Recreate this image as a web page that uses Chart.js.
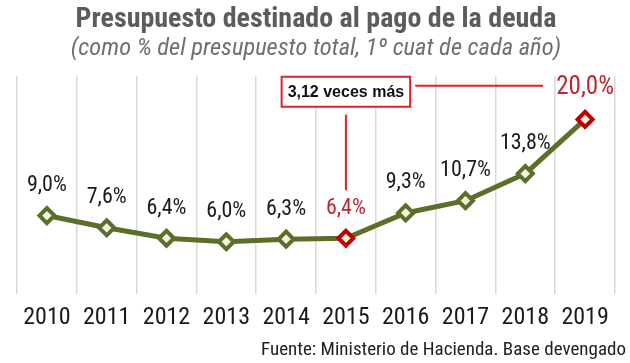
<!DOCTYPE html>
<html>
<head>
<meta charset="utf-8">
<script src="https://cdn.jsdelivr.net/npm/chart.js@4.4.1/dist/chart.umd.min.js"></script>
<style>
  html, body { margin: 0; padding: 0; background: #fff; }
  #wrap { width: 630px; height: 363px; }
</style>
</head>
<body>
<div id="wrap"><canvas id="canvas"></canvas></div>
<script>
// datos
const years = ["2010", "2011", "2012", "2013", "2014", "2015", "2016", "2017", "2018", "2019"];
const shares = [9.0, 7.6, 6.4, 6.0, 6.3, 6.4, 9.3, 10.7, 13.8, 20.0];
const highlightYears = ["2015", "2019"];
const calloutText = "3,12 veces más";
const footerText = "Fuente: Ministerio de Hacienda. Base devengado";

const NARROW = "'Liberation Sans Narrow', 'Roboto Condensed', Roboto, sans-serif";
const GREEN = "#5b6f29";
const RED = "#c00000";

const isHighlight = (i) => highlightYears.includes(years[i]);
const fmt = (v) => v.toFixed(1).replace(".", ",") + "%";

// etiquetas de valores + llamada + fuente
const extras = {
  id: "extras",
  afterDatasetsDraw(chart) {
    const ctx = chart.ctx;
    const meta = chart.getDatasetMeta(0);
    ctx.save();
    ctx.textAlign = "center";
    ctx.textBaseline = "middle";
    meta.data.forEach((pt, i) => {
      const last = i === shares.length - 1;
      ctx.font = (last ? "25px " : "22px ") + NARROW;
      ctx.fillStyle = isHighlight(i) ? "#c0262d" : "#1a1a1a";
      ctx.fillText(fmt(shares[i]), pt.x, pt.y - (last ? 32 : 30));
    });

    // recuadro
    const p15 = meta.data[years.indexOf("2015")];
    const p19 = meta.data[years.indexOf("2019")];
    ctx.font = "bold 16px 'Liberation Sans', Arial, sans-serif";
    const tw = ctx.measureText(calloutText).width;
    const bw = tw + 12, bh = 30;
    const bx = p15.x - bw / 2, by = chart.chartArea.top + 1;
    ctx.fillStyle = "#fff";
    ctx.fillRect(bx, by, bw, bh);
    ctx.strokeStyle = "#e0202a";
    ctx.lineWidth = 2;
    ctx.strokeRect(bx, by, bw, bh);
    ctx.fillStyle = "#111";
    ctx.fillText(calloutText, p15.x, by + bh / 2 + 1);

    ctx.beginPath();
    ctx.moveTo(bx + bw + 5, by + 9);
    ctx.lineTo(p19.x - 42, by + 9);
    ctx.moveTo(p15.x, by + bh + 8);
    ctx.lineTo(p15.x, p15.y - 48);
    ctx.stroke();

    // fuente
    ctx.textAlign = "right";
    ctx.font = "19px " + NARROW;
    ctx.fillStyle = "#222";
    ctx.fillText(footerText, chart.width - 4, chart.height - 13);
    ctx.restore();
  }
};

new Chart("canvas", {
  type: "line",
  data: {
    labels: years,
    datasets: [{
      data: shares,
      borderColor: GREEN,
      borderWidth: 5,
      tension: 0,
      pointStyle: "rectRot",
      pointRadius: 7.5,
      pointHoverRadius: 7.5,
      pointBorderWidth: 4,
      pointBackgroundColor: "#eef3e2",
      pointBorderColor: (c) => isHighlight(c.dataIndex) ? RED : GREEN
    }]
  },
  options: {
    responsive: true,
    maintainAspectRatio: false,
    animation: false,
    layout: { padding: { left: 17, right: 15, bottom: 22 } },
    plugins: {
      legend: { display: false },
      tooltip: { enabled: false },
      title: {
        display: true,
        text: "Presupuesto destinado al pago de la deuda",
        color: "#5c5c5c",
        font: { family: NARROW, size: 28, weight: "bold", lineHeight: 1.1 },
        padding: { top: 5, bottom: 0 }
      },
      subtitle: {
        display: true,
        text: "(como % del presupuesto total, 1º cuat de cada año)",
        color: "#707070",
        font: { family: NARROW, size: 24.5, style: "italic", lineHeight: 1.1 },
        padding: { top: 0, bottom: 13 }
      }
    },
    scales: {
      x: {
        offset: true,
        grid: { offset: true, color: "#d9d9d9", lineWidth: 1.5, drawTicks: false },
        border: { display: false },
        ticks: { color: "#1a1a1a", padding: 9, font: { family: NARROW, size: 24 } }
      },
      y: { display: false, min: 0, max: 25 }
    }
  },
  plugins: [extras]
});
</script>
</body>
</html>
